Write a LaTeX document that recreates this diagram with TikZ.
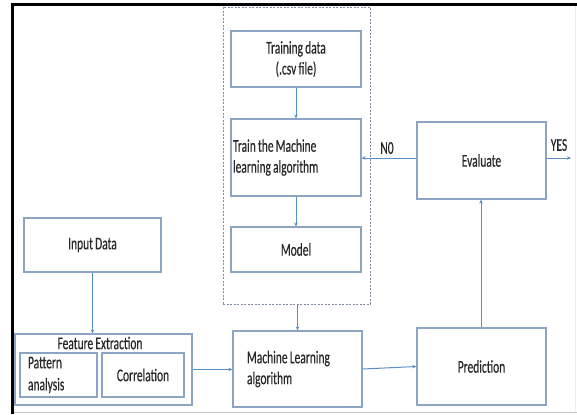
\documentclass[tikz,border=0pt]{standalone}
\usepackage{fontspec}
\setmainfont{Carlito}[FakeStretch=0.64, WordSpace=0.85, FakeBold=0.4]
\usetikzlibrary{arrows.meta}
\definecolor{boxcol}{RGB}{140,165,195}
\definecolor{arrcol}{RGB}{91,143,201}
\definecolor{dashcol}{RGB}{130,140,160}
\definecolor{txtcol}{RGB}{40,40,40}
\tikzset{
  box/.style={draw=boxcol, line width=1.2bp, inner sep=0pt, text=txtcol,
    font=\fontsize{18}{21}\selectfont, align=center},
  lbox/.style={box, align=flush left},
  arr/.style={draw=arrcol, line width=1bp, -{Stealth[length=4bp,width=3.5bp]}},
  lbl/.style={text=txtcol, font=\fontsize{18}{21}\selectfont, inner sep=0pt}
}
\begin{document}
\begin{tikzpicture}[x=1bp,y=-1bp]
\useasboundingbox (0,0) rectangle (577,414);
\fill[white] (0,0) rectangle (577,414);
% frame
\draw[black, line width=2.6bp] (11,4.2) -- (577,4.2);
\draw[black, line width=3bp] (12.5,3) -- (12.5,414);
\draw[gray!45, line width=1.5bp] (14,412.5) -- (577,412.5);
\draw[gray!15, line width=1bp] (575.5,6) -- (575.5,411);
% group
\node[draw=dashcol, dash pattern=on 2bp off 1.5bp, line width=0.9bp,
  minimum width=147bp, minimum height=297bp, inner sep=0pt] (grp) at (296.5,155.5) {};
% boxes
\node[box, minimum width=130bp, minimum height=56bp] (td) at (296,59) {Training data\\(.csv file)};
\node[lbox, text width=126bp, inner xsep=2bp, minimum height=77bp] (train) at (296,157.5) {Train the Machine\\learning algorithm};
\node[box, minimum width=130bp, minimum height=45bp] (model) at (296,249.5) {Model};
\node[box, minimum width=129bp, minimum height=77bp] (eval) at (481.5,160.5) {Evaluate};
\node[box, minimum width=137bp, minimum height=54bp] (input) at (92.5,245) {Input Data};
\node[box, minimum width=177bp, minimum height=71bp] (feat) at (103.5,369.5) {};
\node[lbl] (featlbl) at (100,343) {Feature Extraction};
\node[lbox, text width=61bp, inner xsep=8bp, minimum height=44bp, font=\fontsize{18}{22}\selectfont] (pat) at (58.5,375) {Pattern\\analysis};
\node[box, minimum width=82bp, minimum height=44bp] (corr) at (143,375) {Correlation};
\node[lbox, text width=101bp, inner xsep=14bp, minimum height=76bp] (ml) at (297.5,369) {Machine Learning\\algorithm};
\node[box, minimum width=129bp, minimum height=77bp] (pred) at (481.5,366.5) {Prediction};
% connectors
\draw[arr] (td) -- (train);
\draw[arr] (train) -- (model);
\draw[arr] (grp.south -| ml.north) -- (ml.north);
\draw[arr] (input.south) -- (input.south |- feat.north);
\draw[arr] (feat.east) -- (feat.east -| ml.west);
\draw[arr] (ml.east) -- (pred.west);
\draw[arr] (pred.north -| 481,0) -- (eval.south -| 481,0);
\coordinate (noy) at ([yshift=2.5bp]eval.west);
\draw[arr] (noy) -- (noy -| train.east);
\coordinate (yesend) at (571,158);
\draw[arr] (eval.east |- yesend) -- (yesend);
\node[lbl] (no) at (387,148) {N0};
\node[lbl] (yes) at (559,145) {YES};
\end{tikzpicture}
\end{document}
